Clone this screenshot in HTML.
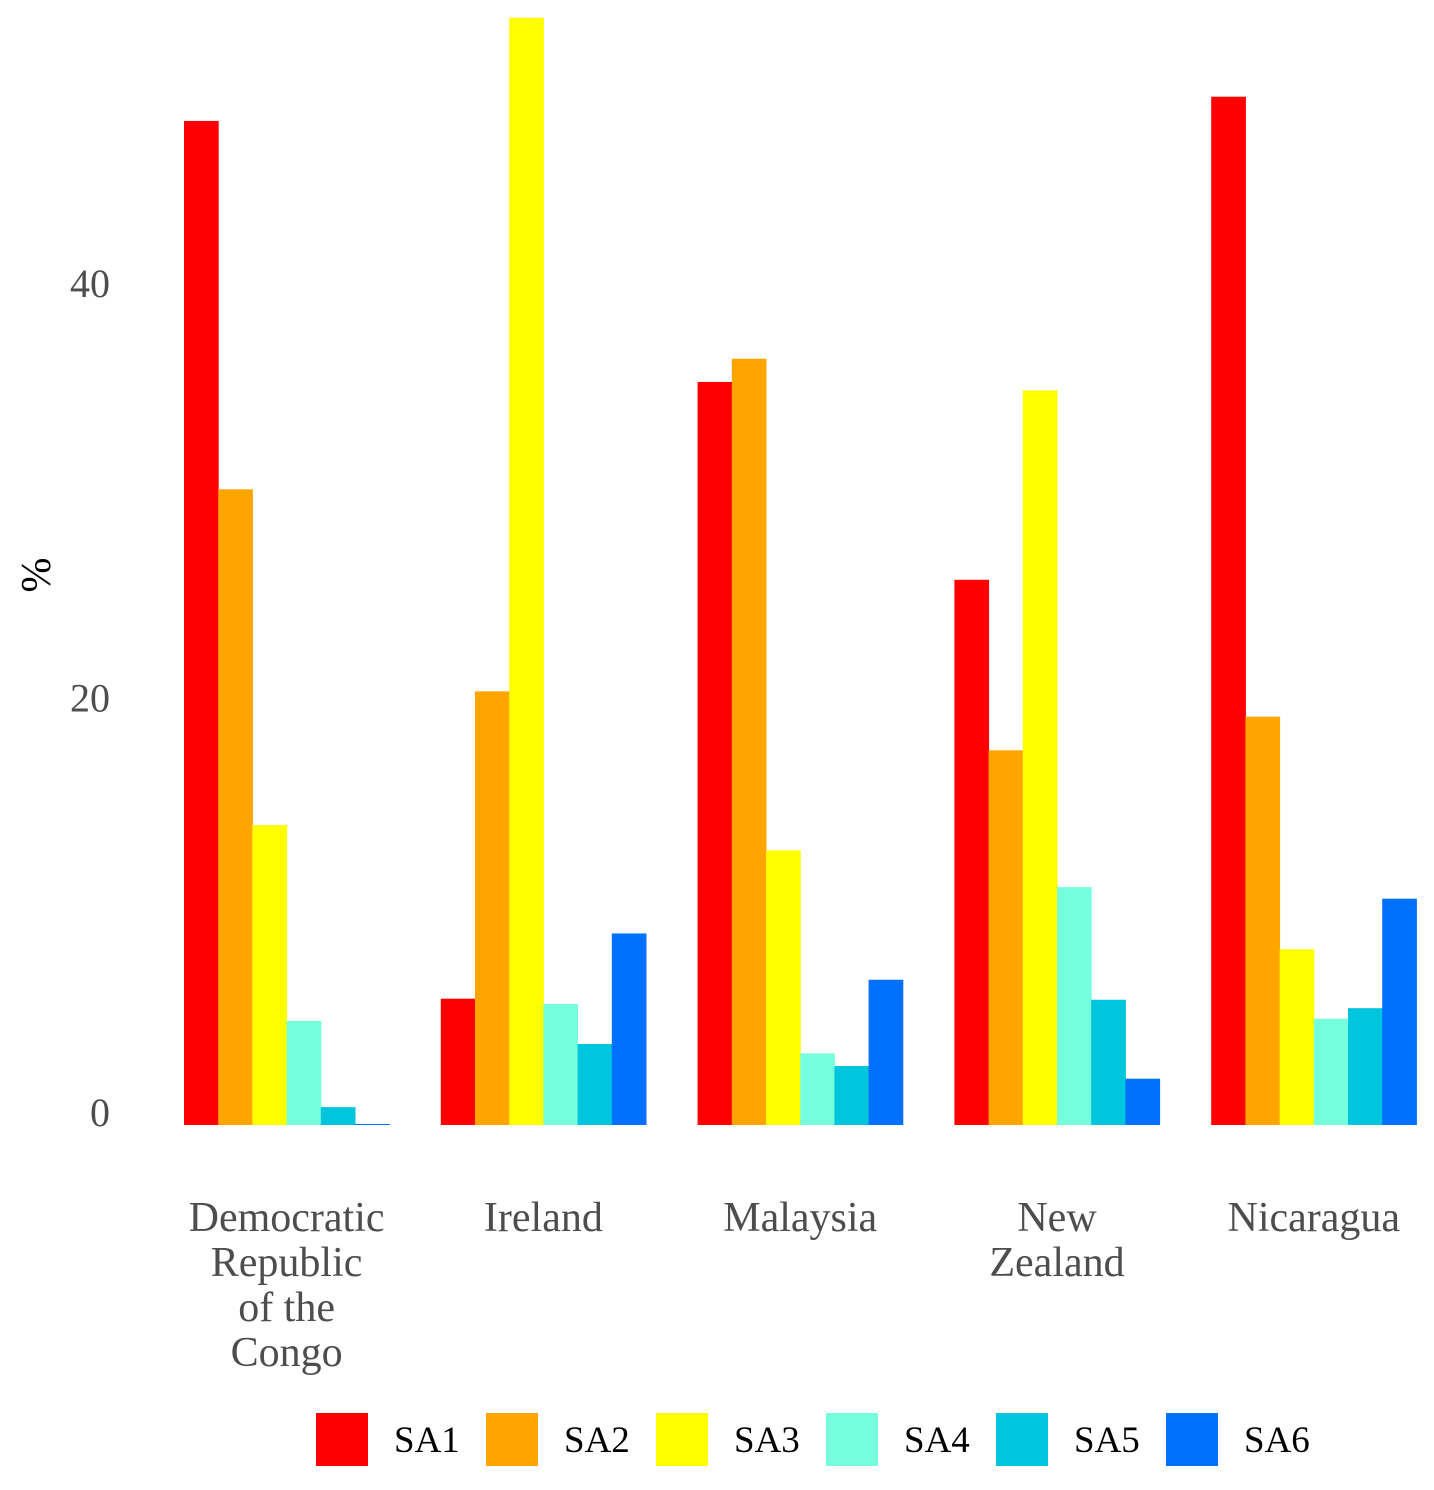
<!DOCTYPE html>
<html><head><meta charset="utf-8"><style>
html,body{margin:0;padding:0;background:#fff;}
svg text{font-family:"Liberation Serif",serif;}
</style></head><body>
<svg id="chart" width="1434" height="1485" xmlns="http://www.w3.org/2000/svg">
<g id="yaxis"></g>
<text x="0" y="0" transform="translate(50,575) rotate(-90)" text-anchor="middle" font-size="42" fill="#000">%</text>
<g id="bars"></g>
<g id="xaxis"></g>
<g id="legend"></g>
</svg>
<script>
const categories = [["Democratic","Republic","of the","Congo"],["Ireland"],["Malaysia"],["New","Zealand"],["Nicaragua"]];
const seriesNames = ["SA1","SA2","SA3","SA4","SA5","SA6"];
const SA1 = [47.7, 6.0, 35.3, 25.9, 48.85];
const SA2 = [30.2, 20.6, 36.4, 17.8, 19.4];
const SA3 = [14.25, 52.6, 13.05, 34.9, 8.35];
const SA4 = [4.95, 5.75, 3.4, 11.3, 5.05];
const SA5 = [0.85, 3.85, 2.8, 5.95, 5.55];
const SA6 = [0.05, 9.1, 6.9, 2.2, 10.75];
const yTicks = [0, 20, 40];
const series = [SA1,SA2,SA3,SA4,SA5,SA6];
const colors = ["#ff0000","#ffa500","#ffff00","#76ffdc","#00c5dc","#0070ff"];
const NS="http://www.w3.org/2000/svg";
const y0=1125, pxPerUnit=21.05;
const yScale=v=>y0-v*pxPerUnit;
const labelScale=v=>1112-v*20.73;
const groupStart=184, groupStep=256.8, barW=34.2;
const xBar=(g,s)=>groupStart+g*groupStep+s*barW;
function mk(tag,attrs,parent){const e=document.createElementNS(NS,tag);for(const k in attrs)e.setAttribute(k,attrs[k]);parent.appendChild(e);return e;}
const ya=document.getElementById('yaxis');
yTicks.forEach(t=>{
  const e=mk('text',{x:110,y:labelScale(t)+14,'text-anchor':'end','font-size':40,fill:'#4d4d4d'},ya);
  
  
  e.textContent=t;
});
const bg=document.getElementById('bars');
series.forEach((vals,s)=>{
  vals.forEach((v,g)=>{
    const r=mk('rect',{x:xBar(g,s),y:yScale(v),width:barW+0.5,height:Math.max(v*pxPerUnit,1),fill:colors[s]},bg);
    
    
  });
});
const xa=document.getElementById('xaxis');
categories.forEach((lines,g)=>{
  const cx=groupStart+g*groupStep+3*barW;
  const t=mk('text',{x:cx,'text-anchor':'middle','font-size':42,fill:'#4d4d4d'},xa);
  
  
  lines.forEach((ln,i)=>{const sp=mk('tspan',{x:cx,y:1231+i*45},t);sp.textContent=ln;});
});
const lg=document.getElementById('legend');
seriesNames.forEach((n,i)=>{
  const x=316+i*170;
  const r=mk('rect',{x:x,y:1413,width:52,height:53,fill:colors[i]},lg);
  
  
  const t=mk('text',{x:x+78,y:1452,'font-size':37,fill:'#000'},lg);
  
  
  t.textContent=n;
});
</script>
</body></html>
